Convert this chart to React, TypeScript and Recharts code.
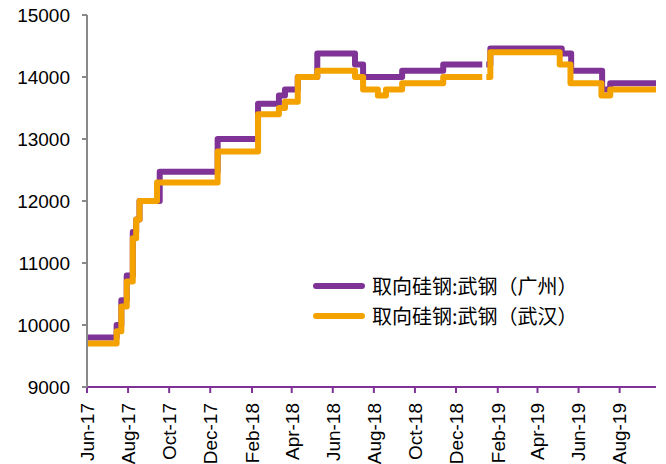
import React from 'react';
import { LineChart, Line, XAxis, YAxis } from 'recharts';

const dates = [
  '2017-06-01', '2017-07-15', '2017-07-22', '2017-07-30', '2017-08-08', '2017-08-13', '2017-08-18',
  '2017-09-13', '2017-09-17', '2017-12-12', '2018-02-10', '2018-03-13', '2018-03-22', '2018-04-10',
  '2018-05-09', '2018-07-04', '2018-07-16', '2018-08-07', '2018-08-19', '2018-09-12', '2018-11-12',
  '2019-01-09', '2019-01-11', '2019-01-15', '2019-01-21', '2019-05-04', '2019-05-07', '2019-05-20',
  '2019-05-21', '2019-07-05', '2019-07-06', '2019-07-18', '2019-09-24',
];
const guangzhou = [
  9800, 10000, 10400, 10800, 11500, 11700, 12000,
  12000, 12470, 13000, 13570, 13700, 13800, 14000,
  14380, 14200, 14000, 14000, 14000, 14100, 14200,
  14200, null, 14200, 14460, 14460, 14380, 14380,
  14100, 14100, 13800, 13900, 13900,
];
const wuhan = [
  9700, 9900, 10300, 10700, 11400, 11700, 12000,
  12300, 12300, 12800, 13400, 13500, 13600, 14000,
  14100, 14000, 13800, 13700, 13800, 13900, 14000,
  14000, null, 14000, 14400, 14200, 14200, 13900,
  13900, 13700, 13700, 13800, 13800,
];
const seriesNames = ['取向硅钢:武钢（广州）', '取向硅钢:武钢（武汉）'];
const tickDates = [
  '2017-06-01', '2017-08-01', '2017-10-01', '2017-12-01', '2018-02-01', '2018-04-01', '2018-06-01',
  '2018-08-01', '2018-10-01', '2018-12-01', '2019-02-01', '2019-04-01', '2019-06-01', '2019-08-01',
];
const yTicks = [9000, 10000, 11000, 12000, 13000, 14000, 15000];
const monthNames = ['Jan', 'Feb', 'Mar', 'Apr', 'May', 'Jun', 'Jul', 'Aug', 'Sep', 'Oct', 'Nov', 'Dec'];

const PURPLE = '#7F3396';
const ORANGE = '#F3A200';

const data = dates.map((d, i) => ({ t: Date.parse(d), p: guangzhou[i], o: wuhan[i] }));

const fmt = (v: number) => {
  const d = new Date(v);
  return `${monthNames[d.getUTCMonth()]}-${String(d.getUTCFullYear()).slice(2)}`;
};

const XTick = (props: any) => {
  const { x, y, payload } = props;
  return (
    <text
      x={x}
      y={y}
      transform={`rotate(-90, ${x}, ${y})`}
      textAnchor="end"
      dy="0.36em"
      fontSize={19}
      fontFamily="Liberation Sans, Arial, sans-serif"
      fill="#000"
    >
      {fmt(payload.value)}
    </text>
  );
};

const LegendBox = () => {
  const colors = [PURPLE, ORANGE];
  return (
    <div style={{ position: 'absolute', left: 313, top: 271 }}>
      {seriesNames.map((n, i) => (
        <div key={n} style={{ display: 'flex', alignItems: 'center', height: 30 }}>
          <div style={{ width: 52, height: 6, borderRadius: 3, background: colors[i], marginRight: 7 }} />
          <span style={{ fontSize: 20, fontFamily: 'Noto Sans CJK SC', color: '#000', whiteSpace: 'nowrap', lineHeight: '30px' }}>{n}</span>
        </div>
      ))}
    </div>
  );
};

export default function App() {
  return (
    <div style={{ position: 'absolute', left: 0, top: 0, width: 666, height: 464, background: '#fff' }}>
      <LineChart width={666} height={464} data={data} margin={{ top: 15, right: 10, bottom: 0, left: 0 }}>
        <XAxis
          type="number"
          dataKey="t"
          domain={[Date.parse('2017-06-01'), Date.parse('2019-09-24')]}
          allowDataOverflow
          ticks={tickDates.map((d) => Date.parse(d))}
          tick={<XTick />}
          height={77}
          axisLine={{ stroke: PURPLE, strokeWidth: 2 }}
          tickLine={{ stroke: PURPLE, strokeWidth: 2 }}
          tickSize={6}
          tickMargin={10}
          interval={0}
        />
        <YAxis
          domain={[9000, 15000]}
          ticks={yTicks}
          width={87}
          interval={0}
          axisLine={{ stroke: '#898989', strokeWidth: 2 }}
          tickLine={{ stroke: '#898989', strokeWidth: 2 }}
          tickSize={5}
          tickMargin={12}
          tick={{ fontSize: 19, fill: '#000', fontFamily: 'Liberation Sans, Arial, sans-serif' }}
        />
        <Line
          type="stepAfter"
          dataKey="p"
          name={seriesNames[0]}
          stroke={PURPLE}
          strokeWidth={6}
          strokeLinejoin="round"
          dot={false}
          isAnimationActive={false}
        />
        <Line
          type="stepAfter"
          dataKey="o"
          name={seriesNames[1]}
          stroke={ORANGE}
          strokeWidth={6}
          strokeLinejoin="round"
          dot={false}
          isAnimationActive={false}
        />
      </LineChart>
      <LegendBox />
    </div>
  );
}
